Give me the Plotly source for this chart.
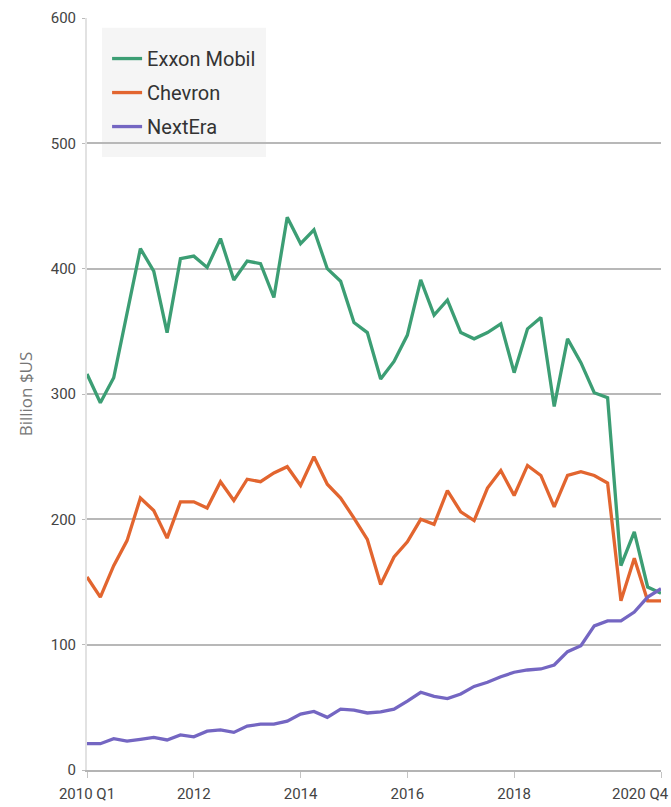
import plotly.graph_objects as go

quarters = [f"{y} Q{q}" for y in range(2010, 2021) for q in range(1, 5)]

exxon = [316, 293, 313, 363, 416, 398, 349, 408, 410, 401, 424, 391, 406, 404, 377, 441,
         420, 431, 400, 390, 357, 349, 312, 326, 347, 391, 363, 375, 349, 344, 349, 356,
         317, 352, 361, 290, 344, 325, 301, 297, 163, 190, 146, 141]
chevron = [154, 138, 163, 183, 217, 207, 185, 214, 214, 209, 230, 215, 232, 230, 237, 242,
           227, 250, 228, 217, 201, 184, 148, 170, 182, 200, 196, 223, 206, 199, 225, 239,
           219, 243, 235, 210, 235, 238, 235, 229, 135, 169, 135, 135]
nextera = [21, 21, 25, 23, 24.5, 26, 24, 28, 26.5, 31, 32, 30, 35, 36.6, 36.6, 39,
           44.6, 46.7, 42, 48.6, 47.8, 45.5, 46.4, 48.6, 55, 62, 58.7, 57, 60.6, 66.7, 70, 74.4,
           78, 79.8, 80.6, 83.8, 94.4, 99.2, 115, 119, 119, 126, 138, 144.6]

series_names = ["Exxon Mobil", "Chevron", "NextEra"]
series_values = [exxon, chevron, nextera]
series_colors = ["#3c9e74", "#e2652f", "#7466c2"]

tick_quarters = ["2010 Q1", "2012 Q1", "2014 Q1", "2016 Q1", "2018 Q1", "2020 Q4"]
tick_labels = ["2010 Q1", "2012", "2014", "2016", "2018", ""]
last_label = "2020 Q4"

x_idx = list(range(len(quarters)))

fig = go.Figure()
for name, vals, col in zip(series_names, series_values, series_colors):
    fig.add_trace(go.Scatter(x=x_idx, y=vals, mode="lines", name=name, legendgroup=name,
                             line=dict(color=col, width=3.3)))

FONT = "Roboto, sans-serif"
tickfont = dict(family=FONT, size=15, color="#444")

fig.update_layout(
    width=671, height=807,
    margin=dict(l=87, r=10, t=18, b=37),
    plot_bgcolor="white", paper_bgcolor="white",
    showlegend=True,
    legend=dict(x=0.035, y=0.972, xanchor="left", yanchor="top",
                bgcolor="rgba(0,0,0,0)", borderwidth=0,
                font=dict(family=FONT, size=20, color="#333"),
                traceorder="grouped", tracegroupgap=5),
    xaxis=dict(range=[0, len(quarters) - 1],
               tickvals=[quarters.index(q) for q in tick_quarters],
               ticktext=tick_labels,
               ticks="outside", ticklen=6, tickcolor="#c4c4c4", tickwidth=1,
               ticklabelstandoff=3,
               showgrid=False, zeroline=False,
               showline=True, linecolor="#b4b4b4", linewidth=2,
               tickfont=tickfont, automargin=False),
    yaxis=dict(range=[0, 600], tickvals=[0, 100, 200, 300, 400, 500, 600],
               showgrid=True, gridcolor="#b8b8b8", gridwidth=2,
               zeroline=False, showline=True, linecolor="#e2e2e2", linewidth=2,
               ticks="outside", ticklen=3, tickcolor="#bbb", ticklabelstandoff=3,
               tickfont=tickfont, automargin=False,
               title=dict(text="Billion $US", standoff=14,
                          font=dict(family="Open Sans, sans-serif", size=17, color="#777"))),
    shapes=[dict(type="rect", xref="paper", yref="paper",
                 x0=0.026, x1=0.312, y0=0.815, y1=0.987,
                 fillcolor="#f5f5f5", line=dict(width=0), layer="below")],
)

fig.add_annotation(x=quarters.index("2020 Q4"), y=0, xref="x", yref="paper",
                   text=last_label, showarrow=False, xanchor="right", yanchor="top",
                   xshift=10, yshift=-13, font=tickfont)

fig.write_html("out.html", config={"displayModeBar": False},
               post_script="document.body.style.margin='0';")
